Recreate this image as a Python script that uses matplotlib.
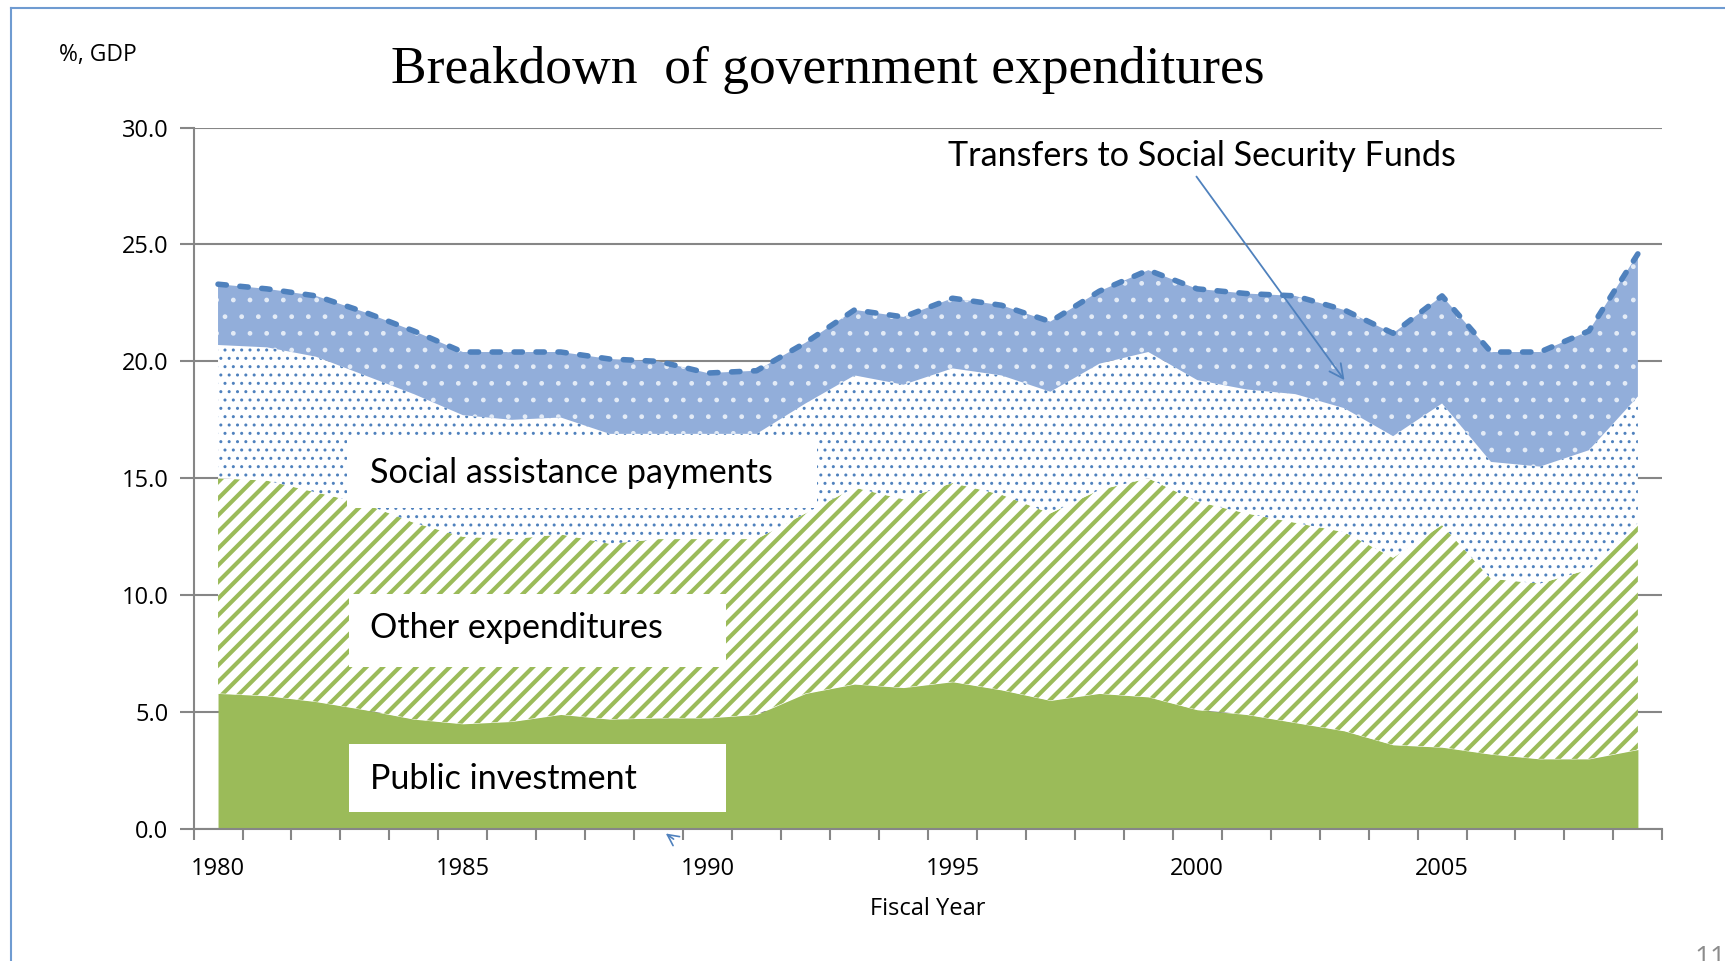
import matplotlib
matplotlib.use("Agg")
import matplotlib.pyplot as plt
import numpy as np
from matplotlib.lines import Line2D

years = list(range(1980, 2010))
public_investment = [5.8, 5.7, 5.45, 5.1, 4.7, 4.5, 4.6, 4.9, 4.7, 4.75,
                     4.75, 4.9, 5.8, 6.2, 6.05, 6.3, 5.95, 5.5, 5.8, 5.65,
                     5.1, 4.9, 4.55, 4.2, 3.6, 3.5, 3.2, 3.0, 3.0, 3.4]
cum_other = [15.0, 14.9, 14.4, 13.9, 13.1, 12.5, 12.4, 12.6, 12.2, 12.4,
             12.4, 12.4, 13.5, 14.6, 14.1, 14.8, 14.3, 13.5, 14.5, 15.0,
             14.0, 13.5, 13.1, 12.7, 11.6, 13.0, 10.7, 10.5, 11.1, 13.1]
cum_social = [20.7, 20.6, 20.2, 19.4, 18.6, 17.7, 17.5, 17.6, 16.9, 16.9,
              16.9, 16.9, 18.2, 19.4, 19.0, 19.7, 19.4, 18.7, 19.9, 20.4,
              19.2, 18.8, 18.6, 18.0, 16.8, 18.2, 15.7, 15.5, 16.2, 18.5]
total = [23.3, 23.1, 22.8, 22.1, 21.3, 20.4, 20.4, 20.4, 20.1, 20.0,
         19.5, 19.6, 20.8, 22.2, 21.9, 22.7, 22.4, 21.7, 23.0, 23.9,
         23.1, 22.9, 22.8, 22.2, 21.2, 22.8, 20.4, 20.4, 21.3, 24.6]
other_expenditures = [c - p for c, p in zip(cum_other, public_investment)]
social_assistance = [c - p for c, p in zip(cum_social, cum_other)]
transfers_ssf = [t - c for t, c in zip(total, cum_social)]

y_ticks = [0, 5, 10, 15, 20, 25, 30]
x_label_years = [1980, 1985, 1990, 1995, 2000, 2005]

title = "Breakdown  of government expenditures"
label_font = ["Lato", "DejaVu Sans"]
small_font = ["Open Sans", "DejaVu Sans"]

plt.rcParams['hatch.linewidth'] = 3.0
plt.rcParams['lines.scale_dashes'] = False

fig = plt.figure(figsize=(17.25, 9.61), dpi=100)
ax = fig.add_axes([0.1122, 0.1373, 0.8515, 0.730])

x = np.array(years)
base = np.zeros(len(years))
s1 = base + np.array(public_investment)
s2 = s1 + np.array(other_expenditures)
s3 = s2 + np.array(social_assistance)
s4 = s3 + np.array(transfers_ssf)

green = "#9BBB59"
blue = "#4F81BD"

def hlw(obj, w):
    try:
        obj.set_hatch_linewidth(w)
    except AttributeError:
        pass

ax.fill_between(x, base, s1, facecolor=green, edgecolor=green, linewidth=0, zorder=2)
plt.rcParams['hatch.linewidth'] = 3.0
p2 = ax.fill_between(x, s1, s2, facecolor="white", edgecolor=green, hatch="//", linewidth=0, zorder=2)
hlw(p2, 3.0)
plt.rcParams['hatch.linewidth'] = 1.0
p3 = ax.fill_between(x, s2, s3, facecolor="white", edgecolor=blue, hatch="..", linewidth=0, zorder=2)
hlw(p3, 1.0)
plt.rcParams['hatch.linewidth'] = 1.0
p4 = ax.fill_between(x, s3, s4, facecolor="#92AEDA", edgecolor="#E3EBF6", hatch=".", linewidth=0, zorder=2)
hlw(p4, 1.0)

ax.plot(x, s4, color=blue, lw=4.0, dashes=(6, 9.8), dash_capstyle="round",
        solid_capstyle="round", zorder=4)

ax.set_xlim(1979.5, 2009.5)
ax.set_ylim(0, 30)
ax.set_yticks(y_ticks)
ax.set_yticklabels([f"{v:.1f}" for v in y_ticks])
ax.set_xticks(np.arange(1979.5, 2010.0, 1.0))
ax.set_xticklabels([])
ax.set_xticks(x_label_years, minor=True)
ax.set_xticklabels([str(v) for v in x_label_years], minor=True)
ax.tick_params(axis="x", which="minor", length=0, pad=20)
ax.tick_params(axis="x", which="major", length=8, width=1.5, color="#868686", direction="out")
ax.tick_params(axis="y", length=10, width=1.5, color="#868686", pad=8)
for lab in ax.get_xticklabels(minor=True) + ax.get_yticklabels():
    lab.set_fontfamily(small_font)
    lab.set_fontsize(17)
ax.yaxis.grid(True, color="#868686", lw=1.5, zorder=1)
ax.set_axisbelow(True)
for side in ["top", "right"]:
    ax.spines[side].set_visible(False)
for side in ["left", "bottom"]:
    ax.spines[side].set_color("#868686")
    ax.spines[side].set_linewidth(1.5)
    ax.spines[side].set_zorder(5)

ax.set_xlabel("Fiscal Year", fontsize=17, family=small_font, labelpad=12)

# label boxes
def label_box(x0, x1, y0, y1, tx, ty, text):
    ax.fill_between([x0, x1], [y0, y0], [y1, y1], facecolor="white", edgecolor="none", zorder=6)
    ax.text(tx, ty, text, fontsize=24.6, family=label_font, va="center", ha="left", zorder=7)

label_box(1982.64, 1992.23, 13.73, 16.74, 1983.1, 15.23, "Social assistance payments")
label_box(1982.68, 1990.38, 6.91, 10.06, 1983.1, 8.6, "Other expenditures")
label_box(1982.68, 1990.38, 0.75, 3.62, 1983.1, 2.15, "Public investment")

ax.annotate("", xy=(2003.04, 19.1), xytext=(1999.95, 28.0),
            arrowprops=dict(arrowstyle="->", color=blue, lw=1.3, mutation_scale=25), zorder=8)
ax.text(1994.9, 28.8, "Transfers to Social Security Funds", fontsize=24.6, family=label_font,
        va="center", ha="left", zorder=7)

ax.annotate("", xy=(1989.1, -0.12), xytext=(1989.35, -0.5),
            arrowprops=dict(arrowstyle="->", color=blue, lw=1.2, mutation_scale=20),
            annotation_clip=False, zorder=8)

fig.text(0.2265, 0.9275, title, fontsize=38.5, family=["Liberation Serif", "DejaVu Serif"], ha="left", va="center")
fig.text(0.034, 0.943, "%, GDP", fontsize=16.5, family=small_font, ha="left", va="center")
fig.text(0.982, -0.012, "11", fontsize=20, color="#8c8c8c", family=small_font, ha="left", va="bottom")

fig.add_artist(Line2D([0.0064, 0.0064], [0.0, 0.992], transform=fig.transFigure, color="#6F9BD1", lw=1.5))
fig.add_artist(Line2D([0.0064, 1.0], [0.992, 0.992], transform=fig.transFigure, color="#6F9BD1", lw=1.5))

fig.savefig("out.png", dpi=100, facecolor="white")
